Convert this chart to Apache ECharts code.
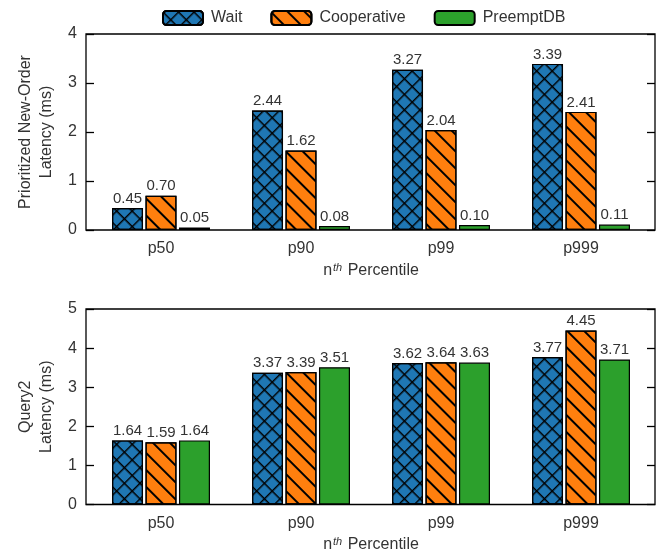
<!DOCTYPE html>
<html><head><meta charset="utf-8">
<script src="https://cdn.jsdelivr.net/npm/echarts@6/dist/echarts.min.js"></script>
<style>html,body{margin:0;padding:0;background:#fff}#c{width:672px;height:556px}</style>
</head><body><div id="c"></div>
<script>
const categories = ['p50', 'p90', 'p99', 'p999'];
const seriesNames = ['Wait', 'Cooperative', 'PreemptDB'];
const newOrderWait = [0.45, 2.44, 3.27, 3.39];
const newOrderCoop = [0.70, 1.62, 2.04, 2.41];
const newOrderPreempt = [0.05, 0.08, 0.10, 0.11];
const query2Wait = [1.64, 3.37, 3.62, 3.77];
const query2Coop = [1.59, 3.39, 3.64, 4.45];
const query2Preempt = [1.64, 3.51, 3.63, 3.71];
const topTicks = [0, 1, 2, 3, 4];
const bottomTicks = [0, 1, 2, 3, 4, 5];

const FONT = 'Liberation Sans';
const TXT = '#333';
const colors = ['#1f77b4', '#ff7f0e', '#2ca02c'];
const decals = [
  { symbol: 'path://M0,0H10V1.3H0Z M0,0H1.3V10H0Z', symbolSize: 1, symbolKeepAspect: false,
    dashArrayX: [10.6, 0], dashArrayY: [10.6, 0], rotation: Math.PI / 4, color: '#000' },
  { symbol: 'rect', dashArrayX: [1, 0], dashArrayY: [1.3, 9.3], rotation: Math.PI / 4, color: '#000' },
  null
];

const plots = [
  { top: 34, height: 196, ticks: topTicks, name: 'Prioritized New-Order\nLatency (ms)',
    data: [newOrderWait, newOrderCoop, newOrderPreempt] },
  { top: 309, height: 195.5, ticks: bottomTicks, name: 'Query2\nLatency (ms)',
    data: [query2Wait, query2Coop, query2Preempt] }
];

const grid = [], xAxis = [], yAxis = [], series = [];
plots.forEach((p, i) => {
  const minV = p.ticks[0], maxV = p.ticks[p.ticks.length - 1];
  grid.push({ left: 86, width: 569, top: p.top, height: p.height, show: true,
    borderColor: '#000', borderWidth: 1.3, backgroundColor: 'transparent' });
  grid.push({ left: 91, width: 560, top: p.top, height: p.height });
  const gA = 2 * i, gB = 2 * i + 1;
  xAxis.push({ gridIndex: gA, type: 'value', show: false, min: 0, max: 1 });
  xAxis.push({ gridIndex: gB, type: 'category', data: categories,
    axisLine: { show: false }, axisTick: { show: false },
    axisLabel: { color: TXT, fontSize: 16, fontFamily: FONT, margin: 11 },
    name: 'n{sup|th} Percentile', nameLocation: 'middle', nameGap: 32,
    nameTextStyle: { color: TXT, fontSize: 16, fontFamily: FONT,
      rich: { sup: { fontSize: 11, fontStyle: 'italic', verticalAlign: 'top', padding: [0, 1, 6, 1], color: TXT, fontFamily: FONT } } } });
  yAxis.push({ gridIndex: gA, type: 'value', min: minV, max: maxV, interval: 1,
    axisLine: { show: false }, splitLine: { show: false },
    axisTick: { show: true, inside: true, length: 8, lineStyle: { color: '#000', width: 1.3 } },
    axisLabel: { color: TXT, fontSize: 16, fontFamily: FONT, margin: 9 },
    name: p.name, nameLocation: 'middle', nameRotate: 90, nameGap: 29,
    nameTextStyle: { color: TXT, fontSize: 16, fontFamily: FONT, lineHeight: 21 } });
  yAxis.push({ gridIndex: gA, type: 'value', position: 'right', min: minV, max: maxV, interval: 1,
    axisLine: { show: false }, splitLine: { show: false }, axisLabel: { show: false },
    axisTick: { show: true, inside: true, length: 8, lineStyle: { color: '#000', width: 1.3 } } });
  yAxis.push({ gridIndex: gB, type: 'value', min: minV, max: maxV, show: false });
  p.data.forEach((vals, k) => {
    series.push({
      type: 'bar', name: seriesNames[k], data: vals,
      xAxisIndex: 2 * i + 1, yAxisIndex: 3 * i + 2,
      barWidth: 31, barGap: '8%',
      itemStyle: Object.assign({ color: colors[k], borderColor: '#000', borderWidth: 1.2 },
        decals[k] ? { decal: decals[k] } : {}),
      label: { show: true, position: 'top', distance: 2, color: TXT, fontSize: 15, fontFamily: FONT,
        formatter: (d) => d.value.toFixed(2) },
      emphasis: { disabled: true }
    });
  });
});

const chart = echarts.init(document.getElementById('c'));
chart.setOption({
  animation: false,
  textStyle: { fontFamily: FONT },
  legend: { data: seriesNames, left: 157, top: 5, itemWidth: 40, itemHeight: 14, itemGap: 28,
    textStyle: { color: TXT, fontSize: 16, fontFamily: FONT, padding: [0, 0, 0, 3] } },
  grid, xAxis, yAxis, series
});
</script></body></html>
